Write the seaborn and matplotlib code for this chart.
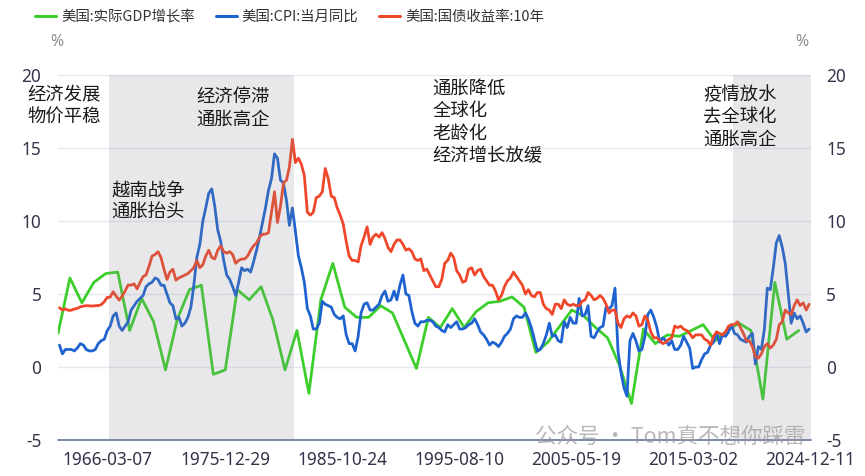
import numpy as np
import pandas as pd
import matplotlib
matplotlib.use("Agg")
import matplotlib.pyplot as plt
import matplotlib.dates as mdates
from matplotlib.lines import Line2D
import seaborn as sns

# ---------------- data ----------------
# Real GDP growth (annual, plotted at year end)
gdp_dates = ["1962-01-01", "1963-01-01", "1964-01-01", "1965-01-01", "1966-01-01",
             "1967-01-01", "1968-01-01", "1969-01-01", "1970-01-01", "1971-01-01",
             "1972-01-01", "1973-01-01", "1974-01-01", "1975-01-01", "1976-01-01",
             "1977-01-01", "1978-01-01", "1979-01-01", "1980-01-01", "1981-01-01",
             "1982-01-01", "1983-01-01", "1984-01-01", "1985-01-01", "1986-01-01",
             "1987-01-01", "1988-01-01", "1989-01-01", "1990-01-01", "1992-01-01",
             "1993-01-01", "1994-01-01", "1995-01-01", "1996-01-01", "1997-01-01",
             "1998-01-01", "1999-01-01", "2000-01-01", "2001-01-01", "2002-01-01",
             "2003-01-01", "2004-01-01", "2005-01-01", "2006-01-01", "2007-01-01",
             "2008-01-01", "2009-01-01", "2010-01-01", "2011-01-01", "2012-01-01",
             "2013-01-01", "2014-01-01", "2015-01-01", "2016-01-01", "2017-01-01",
             "2018-01-01", "2019-01-01", "2020-01-01", "2021-01-01", "2022-01-01",
             "2023-01-01", "2024-01-01"]
gdp_values = [2.3, 6.1, 4.4, 5.8, 6.4,
              6.5, 2.5, 4.7, 3.1, -0.2,
              3.3, 5.3, 5.6, -0.5, -0.2,
              5.3, 4.6, 5.5, 3.2, -0.2,
              2.5, -1.8, 4.6, 7.1, 4.1,
              3.4, 3.4, 4.2, 3.7, -0.1,
              3.4, 2.7, 4.0, 2.7, 3.8,
              4.4, 4.5, 4.8, 4.1, 1.0,
              1.7, 2.8, 3.9, 3.5, 2.7,
              2.0, 0.1, -2.5, 2.6, 1.6,
              2.2, 2.1, 2.5, 2.9, 1.8,
              2.5, 3.0, 2.5, -2.2, 5.8,
              1.9, 2.5]

# CPI year-on-year (quarterly readings, 1962Q1 .. 2024Q4)
cpi_values = [
    1.5, 0.9, 1.2, 1.2,   1.2, 1.1, 1.3, 1.6,   1.5, 1.2, 1.1, 1.1,   1.2, 1.6, 1.8, 1.9,   # 1962-65
    2.5, 2.8, 3.5, 3.7,   2.8, 2.5, 2.8, 3.1,   3.9, 4.2, 4.5, 4.7,   4.9, 5.5, 5.7, 5.8,   # 1966-69
    6.1, 6.0, 5.6, 5.6,   5.0, 4.4, 4.2, 3.3,   3.4, 2.8, 3.0, 3.4,   4.1, 5.6, 7.5, 8.4,   # 1970-73
    10.0, 10.9, 11.9, 12.2, 11.0, 9.4, 8.6, 7.3,  6.3, 6.0, 5.5, 4.9,   5.8, 6.8, 6.6, 6.7,  # 1974-77
    6.5, 7.2, 8.0, 8.9,   9.9, 10.9, 12.1, 12.9, 14.6, 14.3, 12.8, 12.6, 11.4, 9.7, 10.9, 9.3,  # 1978-81
    7.6, 6.8, 5.8, 4.0,   3.5, 2.6, 2.6, 3.0,   4.5, 4.3, 4.2, 4.1,   3.6, 3.4, 3.3, 3.5,   # 1982-85
    2.2, 1.6, 1.6, 1.1,   2.1, 3.7, 4.3, 4.4,   3.9, 3.9, 4.1, 4.3,   4.9, 5.2, 4.5, 4.6,   # 1986-89
    5.2, 4.6, 5.6, 6.3,   5.0, 4.9, 3.8, 3.0,   2.8, 3.1, 3.1, 3.2,   3.2, 3.1, 2.8, 2.7,   # 1990-93
    2.5, 2.4, 2.9, 2.7,   2.9, 3.1, 2.6, 2.6,   2.7, 2.9, 3.0, 3.3,   2.9, 2.4, 2.2, 1.9,   # 1994-97
    1.5, 1.7, 1.6, 1.4,   1.7, 2.1, 2.3, 2.6,   3.3, 3.5, 3.4, 3.4,   3.7, 3.3, 2.7, 1.9,   # 1998-01
    1.1, 1.2, 1.6, 2.2,   3.0, 2.1, 2.2, 1.8,   1.7, 3.1, 2.7, 3.4,   3.0, 3.0, 4.7, 3.5,   # 2002-05
    3.6, 4.2, 2.1, 2.0,   2.4, 2.7, 2.8, 4.1,   4.0, 4.2, 5.4, 1.1,  -0.4, -1.4, -2.0, 1.8,  # 2006-09
    2.3, 1.8, 1.1, 1.2,   2.1, 3.6, 3.9, 3.4,   2.7, 1.7, 2.0, 1.8,   1.5, 1.8, 1.2, 1.2,   # 2010-13
    1.5, 2.1, 1.7, 1.3,  -0.1, 0.0, 0.0, 0.5,   0.9, 1.0, 1.5, 1.7,   2.4, 1.6, 2.2, 2.1,   # 2014-17
    2.4, 2.9, 2.3, 2.2,   1.9, 1.8, 1.7, 2.1,   2.3, 0.2, 1.4, 1.2,   2.6, 5.4, 5.3, 6.8,   # 2018-21
    8.5, 9.0, 8.2, 7.1,   5.0, 3.0, 3.7, 3.3,   3.5, 3.0, 2.4, 2.6,                         # 2022-24
]

# 10-year Treasury yield (quarterly readings, 1962Q1 .. 2024Q4)
yield_values = [
    4.06, 3.90, 3.98, 3.88,  3.89, 3.97, 4.02, 4.12,  4.17, 4.20, 4.19, 4.17,  4.20, 4.21, 4.27, 4.47,  # 1962-65
    4.77, 4.78, 5.15, 4.85,  4.58, 4.85, 5.20, 5.62,  5.60, 5.70, 5.35, 5.80,  6.20, 6.30, 6.90, 7.60,  # 1966-69
    7.70, 7.90, 7.50, 6.70,  6.00, 6.50, 6.70, 5.95,  6.10, 6.20, 6.30, 6.40,  6.60, 6.80, 7.30, 6.80,  # 1970-73
    7.00, 7.60, 8.00, 7.50,  7.40, 8.00, 8.30, 7.90,  7.80, 7.90, 7.70, 7.10,  7.30, 7.40, 7.40, 7.60,  # 1974-77
    8.00, 8.30, 8.50, 8.90,  9.10, 9.10, 9.20, 10.6,  12.0, 9.9, 11.0, 12.6,  12.8, 13.7, 15.6, 14.0,  # 1978-81
    14.3, 13.9, 13.1, 10.6,  10.4, 10.6, 11.6, 11.7,  12.0, 13.6, 12.9, 11.7,  11.6, 10.9, 10.4, 9.8,   # 1982-85
    8.6, 7.6, 7.3, 7.3,      7.2, 8.3, 8.9, 9.6,      8.4, 8.9, 9.1, 8.9,      9.2, 8.8, 8.2, 7.9,     # 1986-89
    8.4, 8.7, 8.7, 8.4,      8.0, 8.1, 7.9, 7.4,      7.3, 7.4, 6.6, 6.7,      6.3, 5.9, 5.5, 5.5,     # 1990-93
    6.0, 7.1, 7.3, 7.8,      7.5, 6.6, 6.3, 5.8,      5.9, 6.7, 6.8, 6.3,      6.6, 6.7, 6.2, 5.9,     # 1994-97
    5.6, 5.6, 5.2, 4.6,      4.9, 5.5, 5.9, 6.1,      6.5, 6.2, 5.9, 5.6,      5.0, 5.3, 4.9, 4.8,     # 1998-01
    5.1, 5.1, 4.3, 4.0,      3.9, 3.6, 4.3, 4.3,      4.0, 4.6, 4.3, 4.2,      4.3, 4.2, 4.2, 4.5,     # 2002-05
    4.6, 5.1, 4.9, 4.6,      4.7, 4.9, 4.7, 4.3,      3.7, 3.9, 3.9, 3.0,      2.7, 3.3, 3.5, 3.4,     # 2006-09
    3.7, 3.5, 2.8, 2.9,      3.5, 3.2, 2.4, 2.0,      2.0, 1.8, 1.6, 1.7,      1.9, 2.0, 2.8, 2.7,     # 2010-13
    2.8, 2.6, 2.5, 2.3,      2.0, 2.2, 2.2, 2.2,      1.9, 1.8, 1.5, 2.1,      2.4, 2.3, 2.2, 2.4,     # 2014-17
    2.8, 2.9, 2.9, 3.1,      2.7, 2.3, 1.8, 1.8,      1.4, 0.7, 0.6, 0.9,      1.4, 1.6, 1.3, 1.5,     # 2018-21
    1.9, 2.9, 3.1, 3.9,      3.7, 3.6, 4.2, 4.6,      4.2, 4.4, 3.9, 4.3,                              # 2022-24
]

tick_dates = ["1966-03-07", "1975-12-29", "1985-10-24", "1995-08-10",
              "2005-05-19", "2015-03-02", "2024-12-11"]
y_ticks = [-5, 0, 5, 10, 15, 20]

series_names = ["美国:实际GDP增长率", "美国:CPI:当月同比", "美国:国债收益率:10年"]
colors = ["#3CCF2C", "#1E63CF", "#F0472A"]

annotations = [
    ("经济发展\n物价平稳", "1959-06-01", 19.25),
    ("越南战争\n通胀抬头", "1966-07-01", 12.7),
    ("经济停滞\n通胀高企", "1973-08-01", 19.1),
    ("通胀降低\n全球化\n老龄化\n经济增长放缓", "1993-05-01", 19.7),
    ("疫情放水\n去全球化\n通胀高企", "2016-01-01", 19.25),
]
shades = [("1966-04-01", "1981-10-01"), ("2018-07-01", "2025-01-10")]

# ---------------- frames ----------------
n_q = len(cpi_values)
q_dates = [pd.Timestamp(year=1962 + i // 4, month=2 + 3 * (i % 4), day=15) for i in range(n_q)]
df_gdp = pd.DataFrame({"date": pd.to_datetime(gdp_dates), "v": gdp_values})
df_cpi = pd.DataFrame({"date": q_dates, "v": cpi_values})
df_yld = pd.DataFrame({"date": q_dates[:len(yield_values)], "v": yield_values})

# ---------------- style ----------------
sns.set_style("white")
plt.rcParams["font.family"] = ["Noto Sans CJK SC", "DejaVu Sans"]

W, H = 865, 476
fig = plt.figure(figsize=(W / 100, H / 100), dpi=100)
L, R, T, B = 58, 811, 75, 440
ax = fig.add_axes([L / W, 1 - B / H, (R - L) / W, (B - T) / H])
ax2 = ax.twinx()

sns.lineplot(data=df_gdp, x="date", y="v", ax=ax, color=colors[0], lw=2.0, zorder=3)
sns.lineplot(data=df_cpi, x="date", y="v", ax=ax, color=colors[1], lw=2.0, zorder=4)
sns.lineplot(data=df_yld, x="date", y="v", ax=ax2, color=colors[2], lw=2.0, zorder=2)

xmin, xmax = pd.Timestamp("1962-01-01"), pd.Timestamp("2025-01-10")
for a in (ax, ax2):
    a.set_xlim(xmin, xmax)
    a.set_ylim(-5, 20)
    a.set_yticks(y_ticks)
    a.set_xlabel("")
    a.set_ylabel("")
    for s in a.spines.values():
        s.set_visible(False)
    a.tick_params(axis="both", length=0)

for v in y_ticks[1:]:
    ax.axhline(v, color="#E6E8F3", lw=1.0, zorder=1)
ax.axhline(-5, color="#6E7EA8", lw=1.3, zorder=5, clip_on=False)

tick_font = ["Noto Sans", "DejaVu Sans"]
ax.set_xticks(pd.to_datetime(tick_dates))
ax.set_xticklabels(tick_dates, fontsize=12.4, color="#33334A", family=tick_font)
ax.tick_params(axis="x", pad=8)
ax.set_yticklabels([str(v) for v in y_ticks], fontsize=12.4, color="#33334A", family=tick_font)
ax.tick_params(axis="y", pad=12)
ax2.set_yticklabels([str(v) for v in y_ticks], fontsize=12.4, color="#33334A", family=tick_font)
ax2.tick_params(axis="y", pad=11)

# shaded periods drawn over the lines
for s, e in shades:
    ax2.axvspan(pd.Timestamp(s), pd.Timestamp(e), ymin=0, ymax=1,
                color="#8A8A94", alpha=0.19, lw=0, zorder=6)

for txt, d, y in annotations:
    ax2.text(pd.Timestamp(d), y, txt, fontsize=13.2, color="#1A1A1A",
             va="top", ha="left", linespacing=1.32, zorder=8,
             family=["Noto Sans CJK SC", "DejaVu Sans"])

# unit labels
fig.text(57 / W, 1 - 42 / H, "%", fontsize=11.5, color="#8C8C8C", ha="center", va="center",
         family=tick_font)
fig.text(802 / W, 1 - 42 / H, "%", fontsize=11.5, color="#8C8C8C", ha="center", va="center",
         family=tick_font)

# legend
handles = [Line2D([0], [0], color=c, lw=2.2) for c in colors]
fig.legend(handles, series_names, loc="center left", bbox_to_anchor=(22 / W, 1 - 17 / H),
           ncol=3, frameon=False, fontsize=10.4, handlelength=1.45, handletextpad=0.35,
           columnspacing=1.45, labelcolor="#333333",
           prop={"family": ["Noto Sans CJK SC", "DejaVu Sans"], "size": 10.4})

# watermark
fig.text(535 / W, 1 - 437 / H, "公众号 · Tom真不想你踩雷", fontsize=15.5, color="#9A9A9A",
         alpha=0.7, ha="left", va="center", family=["Noto Sans CJK SC", "DejaVu Sans"], zorder=10)

fig.savefig("out.png", dpi=100)
